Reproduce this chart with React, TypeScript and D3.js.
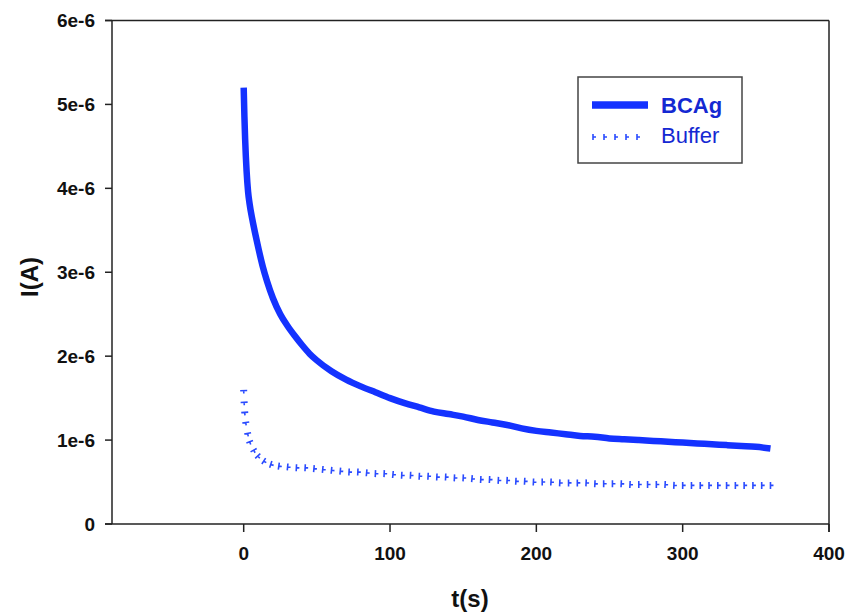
import React from 'react';
import * as d3 from 'd3';

// BCAg current decay (t in s, I in units of 1e-6 A)
const bcagTime = [0, 0.5, 1, 2, 3, 4, 6, 8, 10, 13, 16, 20, 25, 30, 35, 40, 45, 50, 60, 70, 80, 90,
  100, 110, 120, 130, 140, 150, 160, 170, 180, 190, 200, 210, 220, 230, 240, 250, 260, 270, 280,
  290, 300, 310, 320, 330, 340, 350, 360];
const bcagCurrent = [5.20, 4.85, 4.58, 4.20, 3.96, 3.82, 3.62, 3.45, 3.29, 3.07, 2.89, 2.69, 2.50,
  2.36, 2.24, 2.13, 2.03, 1.95, 1.82, 1.72, 1.64, 1.57, 1.50, 1.44, 1.39, 1.34, 1.31, 1.28, 1.24,
  1.21, 1.18, 1.14, 1.11, 1.09, 1.07, 1.05, 1.04, 1.02, 1.01, 1.00, 0.99, 0.98, 0.97, 0.96, 0.95,
  0.94, 0.93, 0.92, 0.90];

const bufferTime = [0, 0.3, 0.7, 1.4, 2.7, 4.1, 6.8, 9.6, 13.7, 18.5, 24, 30, 36, 42, 48, 54, 60,
  66, 72, 78, 84, 90, 96, 102, 108, 114, 120, 126, 132, 138, 144, 150, 156, 162, 168, 174, 180,
  186, 192, 198, 204, 210, 216, 222, 228, 234, 240, 246, 252, 258, 264, 270, 276, 282, 288, 294,
  300, 306, 312, 318, 324, 330, 336, 342, 348, 354, 360];
const bufferCurrent = [1.59, 1.45, 1.33, 1.21, 1.08, 0.98, 0.88, 0.81, 0.75, 0.71, 0.69, 0.68,
  0.67, 0.67, 0.66, 0.65, 0.64, 0.63, 0.62, 0.62, 0.61, 0.60, 0.60, 0.59, 0.58, 0.58, 0.57, 0.57,
  0.56, 0.56, 0.55, 0.55, 0.54, 0.53, 0.53, 0.52, 0.52, 0.51, 0.51, 0.50, 0.50, 0.50, 0.49, 0.49,
  0.49, 0.49, 0.48, 0.48, 0.48, 0.48, 0.47, 0.47, 0.47, 0.47, 0.47, 0.46, 0.46, 0.46, 0.46, 0.46,
  0.46, 0.46, 0.46, 0.46, 0.46, 0.46, 0.46];

const xTicks = [0, 100, 200, 300, 400];
const yTicks = [0, 1, 2, 3, 4, 5, 6];
const yTickLabels = ['0', '1e-6', '2e-6', '3e-6', '4e-6', '5e-6', '6e-6'];

const width = 848;
const height = 613;
const margin = {left: 112, right: 19, top: 20.5, bottom: 89};
const lineBlue = '#1432ff';
const markBlue = '#2a4bff';
const textBlue = '#1428d2';
const axisColor = '#222';
const font = 'Arial, "Liberation Sans", sans-serif';

export default function App() {
  const xScale = d3.scaleLinear().domain([-90, 400]).range([margin.left, width - margin.right]);
  const yScale = d3.scaleLinear().domain([0, 6]).range([height - margin.bottom, margin.top]);
  const x0 = xScale.range()[0];
  const x1 = xScale.range()[1];
  const y0 = yScale.range()[0];
  const y1 = yScale.range()[1];

  const line = d3.line<number>()
    .x((_, i) => xScale(bcagTime[i]))
    .y((d) => yScale(d))
    .curve(d3.curveMonotoneX);

  // buffer marks: short strokes perpendicular to the curve with a small stub
  const pts = bufferTime.map((t, i) => [xScale(t), yScale(bufferCurrent[i])]);
  const marks = pts.map((p, i) => {
    const a = pts[Math.max(0, i - 1)];
    const b = pts[Math.min(pts.length - 1, i + 1)];
    let dx = b[0] - a[0];
    let dy = b[1] - a[1];
    const len = Math.hypot(dx, dy) || 1;
    dx /= len; dy /= len;
    const nx = -dy, ny = dx;
    return `M${p[0] - nx * 3.5},${p[1] - ny * 3.5}L${p[0] + nx * 3.5},${p[1] + ny * 3.5}` +
      `M${p[0]},${p[1]}L${p[0] + dx * 3},${p[1] + dy * 3}`;
  });

  return (
    <svg width={width} height={height} style={{position: 'absolute', left: 0, top: 0}}
      fontFamily={font}>
      <rect x={0} y={0} width={width} height={height} fill="white" />

      {/* frame */}
      <g stroke={axisColor} strokeWidth={1.5} fill="none">
        <line x1={x0} x2={x0} y1={y1} y2={y0} />
        <line x1={x0 - 7} x2={x1} y1={y0} y2={y0} />
        <line x1={x0 - 7} x2={x1} y1={y1} y2={y1} />
        <line x1={x1} x2={x1} y1={y1} y2={y0 + 8} />
      </g>

      {/* y axis */}
      {yTicks.map((v, i) => (
        <g key={'y' + v}>
          <line x1={x0 - 7} x2={x0} y1={yScale(v)} y2={yScale(v)} stroke={axisColor} strokeWidth={1.5} />
          <text x={95} y={yScale(v)} dy="0.36em" textAnchor="end" fontSize={19}
            fontWeight="bold" fill="#111">{yTickLabels[i]}</text>
        </g>
      ))}

      {/* x axis */}
      {xTicks.map((v) => (
        <g key={'x' + v}>
          <line x1={xScale(v)} x2={xScale(v)} y1={y0} y2={y0 + 8} stroke={axisColor} strokeWidth={1.5} />
          <text x={xScale(v)} y={560} textAnchor="middle" fontSize={19}
            fontWeight="bold" fill="#111">{v}</text>
        </g>
      ))}

      <text x={470} y={607} textAnchor="middle" fontSize={24} fontWeight="bold" fill="#111">t(s)</text>
      <text transform={`translate(38, 277) rotate(-90)`} textAnchor="middle" fontSize={24}
        fontWeight="bold" fill="#111">I(A)</text>

      {/* series */}
      <path d={marks.join('')} stroke={markBlue} strokeWidth={1.6} fill="none" />
      <path d={line(bcagCurrent) || ''} stroke={lineBlue} strokeWidth={6.5} fill="none"
        strokeLinejoin="round" />

      {/* legend */}
      <rect x={578} y={77} width={164} height={86} fill="white" stroke="#444" strokeWidth={1.5} />
      <line x1={592} x2={648} y1={105} y2={105} stroke={lineBlue} strokeWidth={7.5} />
      <text x={661} y={113} fontSize={22} fontWeight="bold" fill={textBlue}>BCAg</text>
      {[0, 1, 2, 3, 4].map((k) => (
        <path key={k} d={`M${593 + k * 11},134L${593 + k * 11},140M${593 + k * 11},137L${596 + k * 11},137`}
          stroke={markBlue} strokeWidth={1.6} />
      ))}
      <text x={661} y={143} fontSize={22} fill={textBlue}>Buffer</text>
    </svg>
  );
}
